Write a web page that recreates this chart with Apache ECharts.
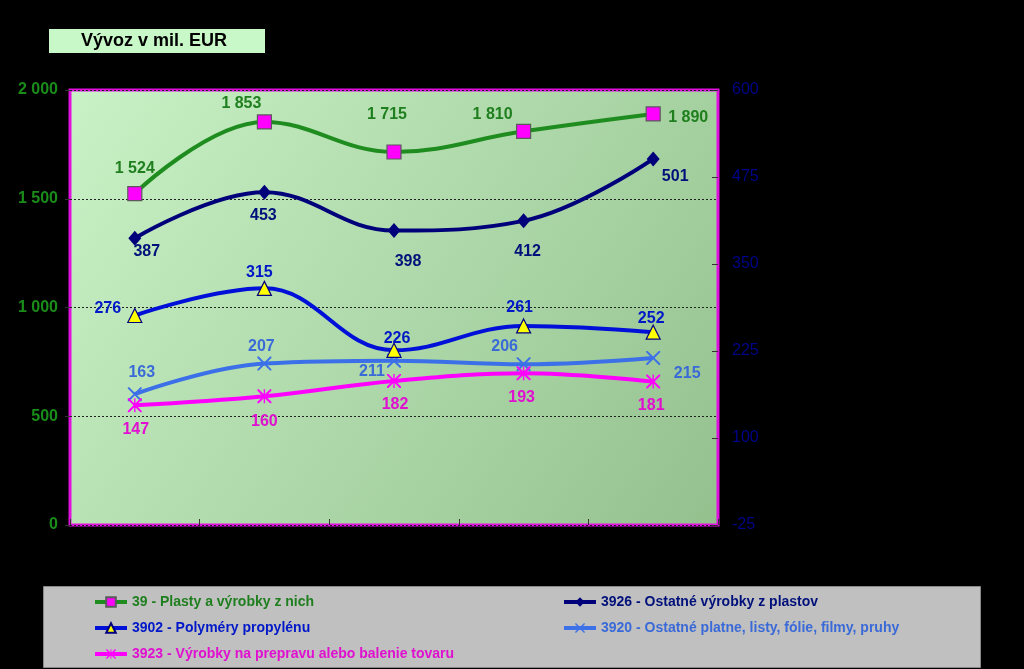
<!DOCTYPE html>
<html><head><meta charset="utf-8">
<script src="https://cdn.jsdelivr.net/npm/echarts@6/dist/echarts.min.js"></script>
<style>html,body{margin:0;padding:0;background:#000;}#c{width:1024px;height:669px;}</style>
</head><body><div id="c"></div>
<script>
const categories = ['1', '2', '3', '4', '5'];
const seriesNames = ['39 - Plasty a výrobky z nich', '3926 - Ostatné výrobky z plastov', '3902 - Polyméry propylénu', '3920 - Ostatné platne, listy, fólie, filmy, pruhy', '3923 - Výrobky na prepravu alebo balenie tovaru'];
const plasty = [1524, 1853, 1715, 1810, 1890];
const ostatneVyrobky = [387, 453, 398, 412, 501];
const polymery = [276, 315, 226, 261, 252];
const platne = [163, 207, 211, 206, 215];
const obaly = [147, 160, 182, 193, 181];
const leftTicks = [0, 500, 1000, 1500, 2000];
const rightTicks = [-25, 100, 225, 350, 475, 600];

// label offsets (style)
const offPlasty = [[0,-25],[-23,-18],[-7,-37],[-31,-17],[35,4]];
const offOstatne = [[12,13],[-1,23],[14,31],[4,31],[22,18]];
const offPolymery = [[-27,-7],[-5,-16],[3,-12],[-4,-18],[-2,-14]];
const offPlatne = [[7,-22],[-3,-17],[-22,11],[-19,-18],[34,16]];
const offObaly = [[1,24],[0,25],[1,24],[-2,24],[-2,24]];

const xPath = 'path://M0,0 L2,0 L10,8 L18,0 L20,0 L20,2 L12,10 L20,18 L20,20 L18,20 L10,12 L2,20 L0,20 L0,18 L8,10 L0,2 Z';
const starPath = 'path://M0,0 L2,0 L10,8 L18,0 L20,0 L20,2 L12,10 L20,18 L20,20 L18,20 L10,12 L2,20 L0,20 L0,18 L8,10 L0,2 Z M9,0 L11,0 L11,20 L9,20 Z';

const FONT = '"Liberation Sans", Arial, sans-serif';
function fmt(v){ return String(v).replace(/\B(?=(\d{3})+(?!\d))/g, ' '); }
function mk(vals, offs, color){
  return vals.map((v,i)=>({value:v, label:{show:true, position:'inside', offset:offs[i], color:color, fontWeight:'bold', fontSize:16, fontFamily:FONT, formatter:p=>fmt(p.value)}}));
}
const cols = {
  plasty: {line:'#1f8c1f', text:'#1f7f1f'},
  ostatne: {line:'#00007a', text:'#00107a'},
  polymery: {line:'#0010d8', text:'#0018c8'},
  platne: {line:'#3c70e8', text:'#3a6ad8'},
  obaly: {line:'#ff00ff', text:'#e010d0'}
};

const legendCommon = {orient:'vertical', top:590, height:78, itemWidth:32, itemHeight:12, itemGap:12,
  lineStyle:{width:4},
  textStyle:{fontSize:14, fontWeight:'bold', fontFamily:FONT}};

const chart = echarts.init(document.getElementById('c'), null, {renderer:'canvas'});
chart.setOption({
  backgroundColor:'#000',
  animation:false,
  textStyle:{fontFamily:FONT},
  grid:{left:70, right:306, top:90, bottom:144, show:true,
    backgroundColor:{type:'linear', x:0, y:0, x2:1, y2:1, colorStops:[{offset:0,color:'#c9f2c6'},{offset:1,color:'#94c08e'}]},
    borderColor:'#e010e0', borderWidth:3},
  xAxis:{type:'category', data:categories, boundaryGap:true,
    axisLine:{show:false}, axisLabel:{show:false},
    axisTick:{show:true, inside:true, length:6, lineStyle:{color:'#333'}}},
  yAxis:[
    {type:'value', min:leftTicks[0], max:leftTicks[leftTicks.length-1], interval:500,
      axisLine:{show:false}, axisTick:{show:true, length:5, lineStyle:{color:'#333'}},
      axisLabel:{color:'#1a8c1a', fontSize:16, fontWeight:'bold', fontFamily:FONT, margin:12, formatter:v=>fmt(v)},
      splitLine:{show:true, lineStyle:{color:'#222', type:[2,2], width:1}}},
    {type:'value', position:'right', min:rightTicks[0], max:rightTicks[rightTicks.length-1], interval:125,
      axisLine:{show:false}, axisTick:{show:true, inside:true, length:6, lineStyle:{color:'#333'}},
      axisLabel:{color:'#000088', fontSize:16, fontFamily:FONT, margin:14},
      splitLine:{show:false}}
  ],
  legend:[
    Object.assign({left:88, data:[{name:seriesNames[0], textStyle:{color:cols.plasty.text}},{name:seriesNames[2], textStyle:{color:cols.polymery.text}},{name:seriesNames[4], textStyle:{color:cols.obaly.text}}]}, legendCommon),
    Object.assign({left:557, data:[{name:seriesNames[1], textStyle:{color:cols.ostatne.text}},{name:seriesNames[3], textStyle:{color:cols.platne.text}}]}, legendCommon)
  ],
  graphic:[
    {type:'rect', left:48, top:28, z:-1, shape:{width:217, height:25}, style:{fill:'#c8f8c8', stroke:'#000', lineWidth:1}},
    {type:'text', left:81, top:32, style:{text:'Vývoz v mil. EUR', font:'bold 18px "Liberation Sans", Arial', fill:'#000'}},
    {type:'rect', left:43, top:586, z:-1, shape:{width:937, height:81}, style:{fill:'#c0c0c0', stroke:'#888', lineWidth:1}}
  ],
  series:[
    {name:seriesNames[0], type:'line', yAxisIndex:0, smooth:0.4, data:mk(plasty, offPlasty, cols.plasty.text),
      lineStyle:{color:cols.plasty.line, width:4}, symbol:'rect', symbolSize:14,
      itemStyle:{color:'#ff00ff', borderColor:'#5a5a5a', borderWidth:1.2}, z:5},
    {name:seriesNames[1], type:'line', yAxisIndex:1, smooth:0.4, data:mk(ostatneVyrobky, offOstatne, cols.ostatne.text),
      lineStyle:{color:cols.ostatne.line, width:4}, symbol:'diamond', symbolSize:[13,15],
      itemStyle:{color:cols.ostatne.line, borderWidth:0}, z:4},
    {name:seriesNames[2], type:'line', yAxisIndex:1, smooth:0.4, data:mk(polymery, offPolymery, cols.polymery.text),
      lineStyle:{color:cols.polymery.line, width:4}, symbol:'triangle', symbolSize:14,
      itemStyle:{color:'#ffff00', borderColor:'#000080', borderWidth:1.2}, z:4},
    {name:seriesNames[3], type:'line', yAxisIndex:1, smooth:0.4, data:mk(platne, offPlatne, cols.platne.text),
      lineStyle:{color:cols.platne.line, width:4}, symbol:xPath, symbolSize:14,
      itemStyle:{color:cols.platne.line, borderWidth:0}, z:3},
    {name:seriesNames[4], type:'line', yAxisIndex:1, smooth:0.4, data:mk(obaly, offObaly, cols.obaly.text),
      lineStyle:{color:cols.obaly.line, width:4}, symbol:starPath, symbolSize:14,
      itemStyle:{color:cols.obaly.line, borderWidth:0}, z:3}
  ]
});
</script></body></html>
